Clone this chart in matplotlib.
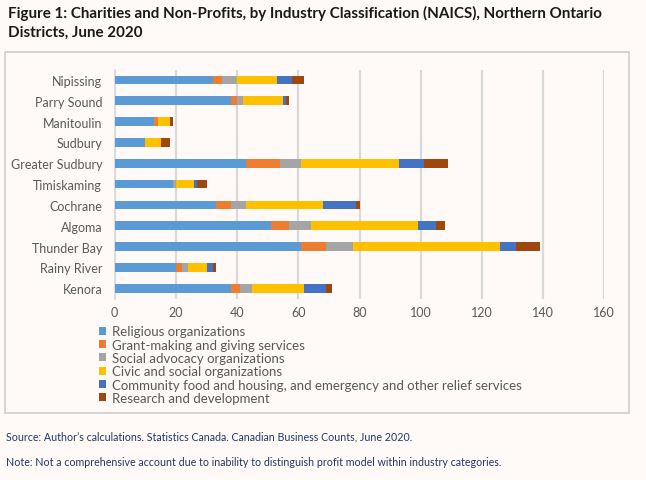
import matplotlib
matplotlib.use("Agg")
import matplotlib.pyplot as plt
from matplotlib.patches import Rectangle
import numpy as np

districts = ["Nipissing", "Parry Sound", "Manitoulin", "Sudbury", "Greater Sudbury",
             "Timiskaming", "Cochrane", "Algoma", "Thunder Bay", "Rainy River", "Kenora"]
series_names = ["Religious organizations",
                "Grant-making and giving services",
                "Social advocacy organizations",
                "Civic and social organizations",
                "Community food and housing, and emergency and other relief services",
                "Research and development"]
religious = [32, 38, 13, 10, 43, 19, 33, 51, 61, 20, 38]
grant     = [3, 2, 1, 0, 11, 0, 5, 6, 8, 2, 3]
social    = [5, 2, 0, 0, 7, 1, 5, 7, 9, 2, 4]
civic     = [13, 13, 4, 5, 32, 6, 25, 35, 48, 6, 17]
community = [5, 1, 0, 0, 8, 1, 11, 6, 5, 2, 7]
research  = [4, 1, 1, 3, 8, 3, 1, 3, 8, 1, 2]
xticks = [0, 20, 40, 60, 80, 100, 120, 140, 160]

colors = ["#5B9BD5", "#ED7D31", "#A5A5A5", "#FFC000", "#4472C4", "#9E480E"]
bg = "#FFFAF7"
W, H = 646, 481

plt.rcParams['font.family'] = ['Lato', 'DejaVu Sans']
fig = plt.figure(figsize=(W/100, H/100), dpi=100, facecolor=bg)

# frame around chart area
fig.patches.append(Rectangle((5/W, 1-414/H), (629-5)/W, (414-53)/H,
                             transform=fig.transFigure, fill=False,
                             edgecolor="#D0CECE", linewidth=1.2))

ax = fig.add_axes([114.7/W, 1-299.6/H, (604.3-114.7)/W, (299.6-70.6)/H])
ax.set_facecolor(bg)

y = np.arange(len(districts))
data = [religious, grant, social, civic, community, research]
left = np.zeros(len(districts))
for vals, c, name in zip(data, colors, series_names):
    ax.barh(y, vals, left=left, height=0.42, color=c, label=name, zorder=3)
    left += np.array(vals)

ax.set_ylim(len(districts)-0.5, -0.5)
ax.set_yticks(y)
ax.set_yticklabels(districts)
ax.set_xlim(0, 160)
ax.set_xticks(xticks)
ax.xaxis.grid(True, color="#D9D9D9", linewidth=1.6, zorder=0)
for s in ["top", "right", "bottom"]:
    ax.spines[s].set_visible(False)
ax.spines["left"].set_color("#D9D9D9")
ax.spines["left"].set_linewidth(1.2)
ax.tick_params(axis="both", length=0, labelsize=9, labelcolor="#595959")
ax.tick_params(axis="y", pad=9)
ax.tick_params(axis="x", pad=5)

leg = ax.legend(loc="upper left", bbox_to_anchor=(99/W, 1-326.5/H), bbox_transform=fig.transFigure,
                frameon=False, fontsize=9.5, labelcolor="#595959",
                handlelength=0.55, handleheight=0.55, handletextpad=0.45,
                labelspacing=0.1, borderaxespad=0, borderpad=0)

fig.text(8/W, 1-6/H, "Figure 1: Charities and Non-Profits, by Industry Classification (NAICS), Northern Ontario\nDistricts, June 2020",
         fontsize=10.9, fontweight="bold", color="#1A1A1A", va="top", ha="left", linespacing=1.45)
fig.text(6/W, 1-437/H, "Source: Author\u2019s calculations. Statistics Canada. Canadian Business Counts, June 2020.",
         fontsize=7.7, color="#1F3864", va="center", ha="left")
fig.text(6/W, 1-462/H, "Note: Not a comprehensive account due to inability to distinguish profit model within industry categories.",
         fontsize=7.7, color="#1F3864", va="center", ha="left")

fig.savefig("out.png", dpi=100, facecolor=bg)
